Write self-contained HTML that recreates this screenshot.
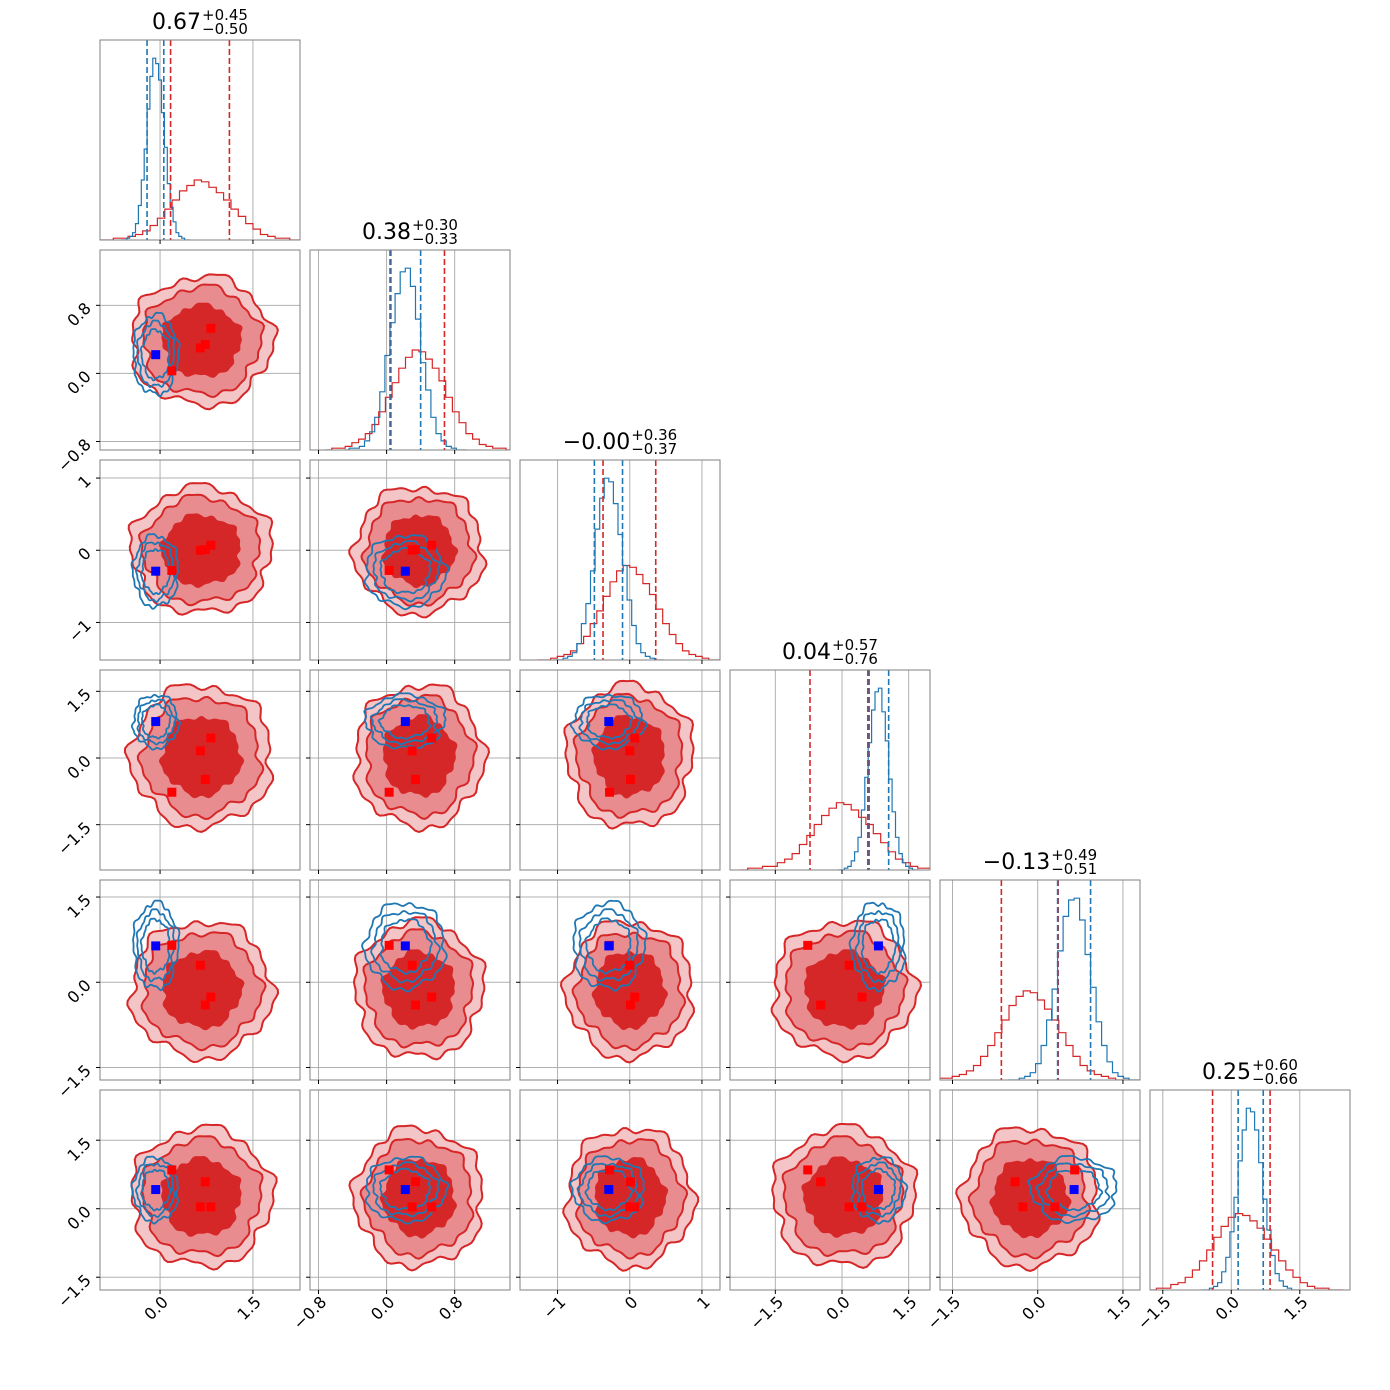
<!DOCTYPE html>
<html><head><meta charset="utf-8"><style>
html,body{margin:0;padding:0;background:#fff;}
svg{display:block;font-family:"DejaVu Sans","Liberation Sans",sans-serif;}
</style></head><body>
<svg id="chart" width="1390" height="1390" viewBox="0 0 1390 1390" xmlns="http://www.w3.org/2000/svg"></svg>
<script>
// ---- data ----
const paramLo = [-0.97, -0.9, -1.52, -2.52, -1.72, -1.78];
const paramHi = [2.26, 1.45, 1.25, 1.98, 1.8, 2.6];
const paramTicks = [[0, 1.5], [-0.8, 0, 0.8], [-1, 0, 1], [-1.5, 0, 1.5], [-1.5, 0, 1.5], [-1.5, 0, 1.5]];
const tickLabels = [["0.0","1.5"],["\u22120.8","0.0","0.8"],["\u22121","0","1"],["\u22121.5","0.0","1.5"],["\u22121.5","0.0","1.5"],["\u22121.5","0.0","1.5"]];
const redMean = [0.67, 0.38, 0.0, 0.04, -0.13, 0.25];
const redSigma = [0.475, 0.315, 0.365, 0.665, 0.5, 0.63];
const blueMean = [-0.07, 0.22, -0.29, 0.82, 0.64, 0.42];
const blueSigma = [0.14, 0.18, 0.19, 0.23, 0.29, 0.27];
const redQ16 = [0.17, 0.05, -0.37, -0.72, -0.64, -0.41];
const redQ84 = [1.12, 0.68, 0.36, 0.61, 0.36, 0.85];
const blueQ16 = [-0.21, 0.04, -0.49, 0.58, 0.35, 0.15];
const blueQ84 = [0.06, 0.40, -0.10, 1.05, 0.93, 0.70];
const titleMain = ["0.67","0.38","\u22120.00","0.04","\u22120.13","0.25"];
const titlePlus = ["+0.45","+0.30","+0.36","+0.57","+0.49","+0.60"];
const titleMinus = ["\u22120.50","\u22120.33","\u22120.37","\u22120.76","\u22120.51","\u22120.66"];
const blueHist0 = [0,0,1,2,4,9,19,33,50,72,90,100,97,88,70,51,31,18,10,4,2,1,0,0];
const blueHist1 = [0,1,1,2,5,10,18,32,52,70,86,98,100,90,72,48,33,18,9,5,2,1,0,0];
const blueHist2 = [0,0,1,2,4,9,20,31,49,72,89,100,98,86,69,52,33,19,9,4,2,1,0,0];
const blueHist3 = [0,0,1,2,5,10,18,33,51,70,88,98,100,87,71,50,32,18,9,4,2,1,0,0];
const blueHist4 = [0,0,1,2,4,9,19,33,50,71,90,99,100,88,69,51,32,19,10,4,2,1,0,0];
const blueHist5 = [0,0,1,2,4,10,18,32,51,71,88,100,98,88,70,50,33,19,9,5,2,1,0,0];
const redHist0 = [0,0,1,1,2,3,5,8,12,17,22,27,30,33,32,29,26,22,17,13,9,6,3,2,1,1,0,0];
const redHist1 = [0,1,1,2,4,6,9,14,21,29,37,45,51,55,54,50,45,38,29,21,15,9,6,3,2,1,1,0];
const redHist2 = [0,0,1,2,3,5,9,13,20,27,35,43,49,52,51,47,42,36,28,20,14,9,5,3,2,1,0,0];
const redHist3 = [0,1,1,2,2,4,6,9,14,19,25,30,34,37,36,33,29,25,20,15,10,6,4,2,1,1,0,0];
const redHist4 = [0,1,1,2,3,5,8,13,19,26,33,41,46,49,48,44,39,33,26,19,13,8,5,3,2,1,0,0];
const redHist5 = [0,0,1,1,3,4,7,11,16,22,29,35,40,42,41,38,34,28,22,16,11,7,4,2,1,1,0,0];
const redTruth0 = [0.19, 0.65, 0.73, 0.82];
const redTruth1 = [0.03, 0.30, 0.34, 0.53];
const redTruth2 = [-0.28, 0.0, 0.01, 0.07];
const redTruth3 = [-0.77, 0.16, -0.48, 0.45];
const redTruth4 = [0.65, 0.30, -0.40, -0.26];
const redTruth5 = [0.85, 0.04, 0.59, 0.04];
const blueTruth = [-0.07, 0.22, -0.29, 0.82, 0.64, 0.42];

const blueHists=[blueHist0,blueHist1,blueHist2,blueHist3,blueHist4,blueHist5];
const redHists=[redHist0,redHist1,redHist2,redHist3,redHist4,redHist5];
const redTruths=[redTruth0,redTruth1,redTruth2,redTruth3,redTruth4,redTruth5];

// ---- layout ----
const NS="http://www.w3.org/2000/svg";
const svg=document.getElementById('chart');
const X0=100, Y0=40, P=200, G=10;
function px(c){return X0+c*(P+G);}
function py(r){return Y0+r*(P+G);}
function sx(c,v){return px(c)+(v-paramLo[c])/(paramHi[c]-paramLo[c])*P;}
function sy(r,v){return py(r)+P-(v-paramLo[r])/(paramHi[r]-paramLo[r])*P;}
function mk(tag,attrs,parent){const e=document.createElementNS(NS,tag);for(const k in attrs)e.setAttribute(k,attrs[k]);(parent||svg).appendChild(e);return e;}
const RED="#d62728", BLUE="#1f77b4";

function blobPath(cx,cy,rx,ry,seed){
  let d="";const n=120;
  for(let i=0;i<=n;i++){const t=i/n*2*Math.PI;
    const w=1+0.05*Math.sin(5*t+seed)+0.035*Math.sin(11*t+2*seed)+0.025*Math.sin(19*t+3*seed);
    const x=cx+rx*w*Math.cos(t), y=cy+ry*w*Math.sin(t);
    d+=(i?"L":"M")+x.toFixed(1)+","+y.toFixed(1);}
  return d+"Z";
}

for(let r=0;r<6;r++){
  for(let c=0;c<=r;c++){
    const g=mk('g',{});
    
    
    const clipId='clip'+r+c;
    const cp=mk('clipPath',{id:clipId},g);mk('rect',{x:px(c),y:py(r),width:P,height:P},cp);
    const inner=mk('g',{'clip-path':'url(#'+clipId+')'},g);
    paramTicks[c].forEach(t=>{const x=sx(c,t);mk('line',{x1:x,x2:x,y1:py(r),y2:py(r)+P,stroke:'#b0b0b0','stroke-width':1},inner);});
    if(r!==c) paramTicks[r].forEach(t=>{const y=sy(r,t);mk('line',{x1:px(c),x2:px(c)+P,y1:y,y2:y,stroke:'#b0b0b0','stroke-width':1},inner);});
    if(r===c){
      const ymax=110;
      const drawHist=(arr,lo,hi,col,name)=>{
        const n=arr.length,w=(hi-lo)/n;let d="M"+sx(c,lo)+","+(py(r)+P);
        arr.forEach((v,i)=>{const y=py(r)+P-v/ymax*P;d+="L"+sx(c,lo+i*w).toFixed(1)+","+y.toFixed(1)+"L"+sx(c,lo+(i+1)*w).toFixed(1)+","+y.toFixed(1);});
        d+="L"+sx(c,hi)+","+(py(r)+P);
        const p=mk('path',{d:d,fill:'none',stroke:col,'stroke-width':1.2},inner);
        
        
      };
      drawHist(redHists[c],redMean[c]-3.5*redSigma[c],redMean[c]+3.5*redSigma[c],RED,'red-histogram');
      drawHist(blueHists[c],blueMean[c]-4*blueSigma[c],blueMean[c]+4*blueSigma[c],BLUE,'blue-histogram');
      [[redQ16[c],RED],[redQ84[c],RED],[blueQ16[c],BLUE],[blueQ84[c],BLUE]].forEach(q=>{
        const x=sx(c,q[0]);
        const l=mk('line',{x1:x,x2:x,y1:py(r),y2:py(r)+P,stroke:q[1],'stroke-width':1.6,'stroke-dasharray':'6,3'},inner);
        
        
      });
      const tx=px(c)+P/2, ty=py(r)-11;
      const tg=mk('g',{},g);
      
      
      const m=mk('text',{x:0,y:ty,'font-size':22,fill:'#000'},tg);m.textContent=titleMain[c];
      const s1=mk('text',{x:0,y:ty-9,'font-size':15,fill:'#000'},tg);s1.textContent=titlePlus[c];
      const s2=mk('text',{x:0,y:ty+5,'font-size':15,fill:'#000'},tg);s2.textContent=titleMinus[c];
      const mw=m.getComputedTextLength(), sw=Math.max(s1.getComputedTextLength(),s2.getComputedTextLength());
      const start=tx-(mw+1+sw)/2;
      m.setAttribute('x',start);s1.setAttribute('x',start+mw+1);s2.setAttribute('x',start+mw+1);
    } else {
      const cx=sx(c,redMean[c]), cy=sy(r,redMean[r]);
      const rx=redSigma[c]/(paramHi[c]-paramLo[c])*P, ry=redSigma[r]/(paramHi[r]-paramLo[r])*P;
      const seed=r*1.7+c*2.3;
      const levels=[[2.4,'#f4c5c7'],[2.0,'#e98c8f'],[1.35,RED]];
      levels.forEach((lv,i)=>{
        const p=mk('path',{d:blobPath(cx,cy,rx*lv[0],ry*lv[0],seed+i*0.6),fill:lv[1],stroke:i<2?RED:'none','stroke-width':2},inner);
        
        
      });
      const bx=sx(c,blueMean[c]), by=sy(r,blueMean[r]);
      const brx=blueSigma[c]/(paramHi[c]-paramLo[c])*P, bry=blueSigma[r]/(paramHi[r]-paramLo[r])*P;
      [2.6,2.1,1.6].forEach((k,i)=>{
        const p=mk('path',{d:blobPath(bx,by,brx*k,bry*k,seed*1.3+i),fill:'none',stroke:BLUE,'stroke-width':1.8},inner);
        
        
      });
      redTruths[c].forEach((v,i)=>{
        const q=mk('rect',{x:sx(c,v)-4.5,y:sy(r,redTruths[r][i])-4.5,width:9,height:9,fill:'#ff0000'},inner);
        
        
      });
      const b=mk('rect',{x:sx(c,blueTruth[c])-4.5,y:sy(r,blueTruth[r])-4.5,width:9,height:9,fill:'#0000ff'},inner);
      
      
    }
    mk('rect',{x:px(c),y:py(r),width:P,height:P,fill:'none',stroke:'#808080','stroke-width':1},g);
    paramTicks[c].forEach((t,i)=>{const x=sx(c,t);mk('line',{x1:x,x2:x,y1:py(r)+P,y2:py(r)+P+4,stroke:'#000','stroke-width':1},g);
      if(r===5){const ax=x+9, ay=py(r)+P+13;const tl=mk('text',{x:ax,y:ay,'font-size':16,'text-anchor':'end',transform:'rotate(-45 '+ax+' '+ay+')'},g);tl.textContent=tickLabels[c][i];
        
        }
    });
    if(r!==c) paramTicks[r].forEach((t,i)=>{const y=sy(r,t);mk('line',{x1:px(c)-4,x2:px(c),y1:y,y2:y,stroke:'#000','stroke-width':1},g);
      if(c===0){const ax=px(c)-8, ay=y+4;const tl=mk('text',{x:ax,y:ay,'font-size':16,'text-anchor':'end',transform:'rotate(-45 '+ax+' '+ay+')'},g);tl.textContent=tickLabels[r][i];
        
        }
    });
  }
}
</script>
</body></html>
